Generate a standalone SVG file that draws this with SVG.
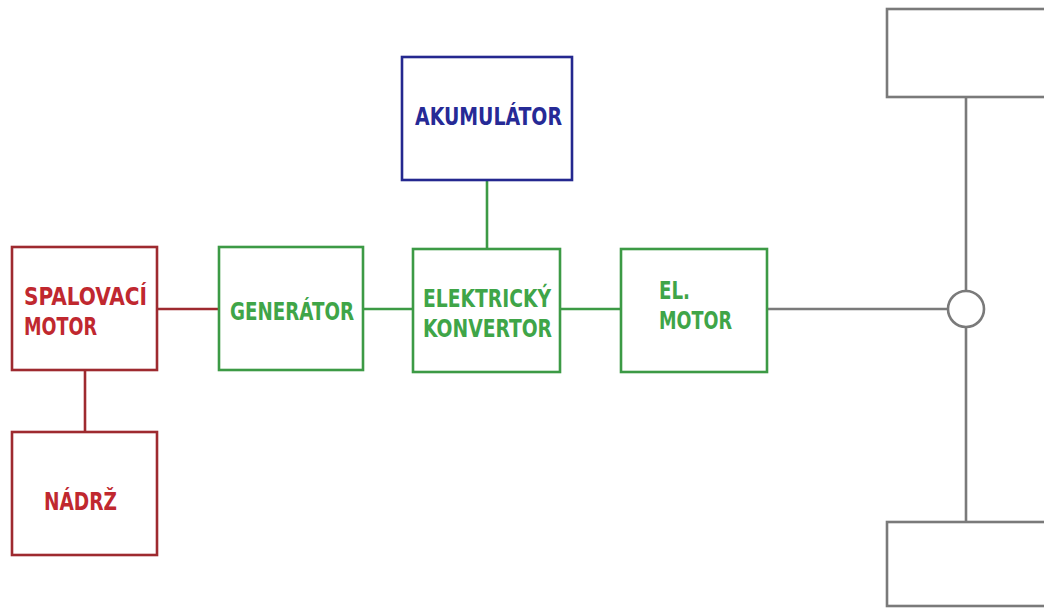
<svg xmlns="http://www.w3.org/2000/svg" width="1044" height="611" viewBox="0 0 1044 611">
<style>
.box{fill:#fff;stroke-width:2.6}
.r{stroke:#9e2a2f}
.g{stroke:#3c9a45}
.b{stroke:#24288f}
.k{stroke:#7a7a7a}
text{font-family:"DejaVu Sans Condensed","DejaVu Sans",sans-serif;font-weight:bold;font-size:24px}
.tr{fill:#c0282f}
.tg{fill:#3fa548}
.tb{fill:#262a96}
line,circle{stroke-width:2.6;fill:none}
</style>
<rect width="1044" height="611" fill="#fff"/>
<g id="connectors">
<line class="r" x1="157" y1="309" x2="219" y2="309"/>
<line class="r" x1="85" y1="370" x2="85" y2="432"/>
<line class="g" x1="363" y1="309" x2="413" y2="309"/>
<line class="g" x1="487" y1="180" x2="487" y2="249"/>
<line class="g" x1="560" y1="309" x2="621" y2="309"/>
<line class="k" x1="767" y1="309" x2="948" y2="309"/>
<line class="k" x1="966" y1="97" x2="966" y2="291"/>
<line class="k" x1="966" y1="327" x2="966" y2="522"/>
</g>
<g id="spalovaci-motor">
<rect class="box r" x="12" y="247" width="145" height="123"/>
<text class="tr" x="24" y="305" textLength="123" lengthAdjust="spacingAndGlyphs">SPALOVACÍ</text>
<text class="tr" x="24" y="335" textLength="73" lengthAdjust="spacingAndGlyphs">MOTOR</text>
</g>
<g id="nadrz">
<rect class="box r" x="12" y="432" width="145" height="123"/>
<text class="tr" x="44" y="510" textLength="73" lengthAdjust="spacingAndGlyphs">NÁDRŽ</text>
</g>
<g id="generator">
<rect class="box g" x="219" y="247" width="144" height="123"/>
<text class="tg" x="230" y="320" textLength="124" lengthAdjust="spacingAndGlyphs">GENERÁTOR</text>
</g>
<g id="akumulator">
<rect class="box b" x="402" y="57" width="170" height="123"/>
<text class="tb" x="415" y="125" textLength="147" lengthAdjust="spacingAndGlyphs">AKUMULÁTOR</text>
</g>
<g id="elektricky-konvertor">
<rect class="box g" x="413" y="249" width="147" height="123"/>
<text class="tg" x="423" y="307" textLength="128" lengthAdjust="spacingAndGlyphs">ELEKTRICKÝ</text>
<text class="tg" x="423" y="337" textLength="129" lengthAdjust="spacingAndGlyphs">KONVERTOR</text>
</g>
<g id="el-motor">
<rect class="box g" x="621" y="249" width="146" height="123"/>
<text class="tg" x="659" y="299" textLength="31" lengthAdjust="spacingAndGlyphs">EL.</text>
<text class="tg" x="659" y="329" textLength="73" lengthAdjust="spacingAndGlyphs">MOTOR</text>
</g>
<g id="wheel-top">
<rect class="box k" x="887" y="9" width="170" height="88"/>
</g>
<g id="wheel-bottom">
<rect class="box k" x="887" y="522" width="170" height="84"/>
</g>
<g id="differential">
<circle class="k" cx="966" cy="309" r="18"/>
</g>
</svg>
